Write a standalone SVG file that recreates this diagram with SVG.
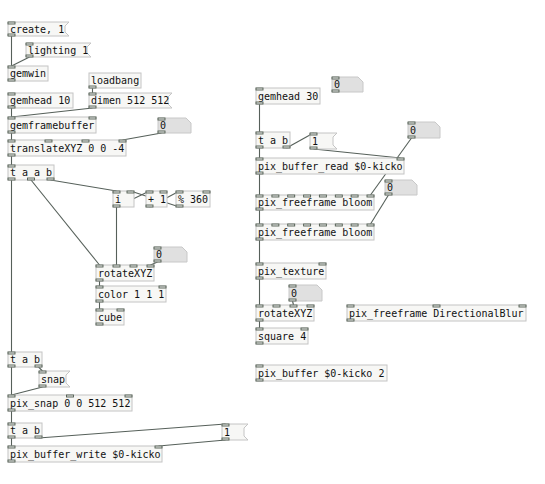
<svg xmlns="http://www.w3.org/2000/svg" width="545" height="484" viewBox="0 0 545 484">
<style>
.o{fill:#f7f7f5;stroke:#c4c4c4;stroke-width:1}
.m{fill:#f7f7f5;stroke:#c4c4c4;stroke-width:1}
.n{fill:#e0e0e0;stroke:#c8c8c8;stroke-width:1}
.io{fill:#eef0ee;stroke:#4e5a4e;stroke-width:0.9}
text{font-family:"DejaVu Sans Mono","Liberation Mono",monospace;font-size:10px;fill:#111}
.c line{stroke:#56605a;stroke-width:1.1;fill:none}
</style>
<rect width="545" height="484" fill="#ffffff"/>
<g class="c" id="connectors">
<line x1="11.5" y1="36" x2="11.5" y2="66"/>
<line x1="29.5" y1="57" x2="11.5" y2="66"/>
<line x1="92.5" y1="88" x2="92.5" y2="93"/>
<line x1="11.5" y1="108" x2="11.5" y2="117"/>
<line x1="92.5" y1="108" x2="11.5" y2="117"/>
<line x1="11.5" y1="133" x2="11.5" y2="140"/>
<line x1="161.5" y1="133" x2="122.5" y2="140"/>
<line x1="11.5" y1="156" x2="11.5" y2="165"/>
<line x1="11.5" y1="180" x2="11.5" y2="352"/>
<line x1="31" y1="180" x2="99.5" y2="265"/>
<line x1="50.5" y1="180" x2="116.5" y2="191"/>
<line x1="116.5" y1="207" x2="149.5" y2="191"/>
<line x1="149.5" y1="207" x2="179.5" y2="191"/>
<line x1="179.5" y1="207" x2="130.5" y2="191"/>
<line x1="116.5" y1="207" x2="116.5" y2="265"/>
<line x1="157.5" y1="262" x2="150.5" y2="265"/>
<line x1="99.5" y1="281" x2="99.5" y2="286"/>
<line x1="99.5" y1="302" x2="99.5" y2="309"/>
<line x1="11.5" y1="367" x2="11.5" y2="395"/>
<line x1="38.5" y1="367" x2="42.5" y2="371"/>
<line x1="42.5" y1="387" x2="11.5" y2="395"/>
<line x1="11.5" y1="411" x2="11.5" y2="423"/>
<line x1="11.5" y1="438" x2="11.5" y2="446"/>
<line x1="38.5" y1="438" x2="225.5" y2="424"/>
<line x1="225.5" y1="440" x2="158.5" y2="446"/>
<line x1="259.5" y1="104" x2="259.5" y2="132"/>
<line x1="259.5" y1="148" x2="259.5" y2="158"/>
<line x1="286.5" y1="148" x2="313.5" y2="133"/>
<line x1="313.5" y1="149" x2="400.5" y2="158"/>
<line x1="259.5" y1="174" x2="259.5" y2="195"/>
<line x1="411.5" y1="138" x2="370.5" y2="195"/>
<line x1="259.5" y1="210" x2="259.5" y2="224"/>
<line x1="388.5" y1="195" x2="370.5" y2="224"/>
<line x1="259.5" y1="240" x2="259.5" y2="263"/>
<line x1="259.5" y1="279" x2="259.5" y2="305"/>
<line x1="292.5" y1="301" x2="293.5" y2="305"/>
<line x1="259.5" y1="321" x2="259.5" y2="328"/>
</g>

<g id="msg-create">
<polygon class="m" points="8,22 69,22 65,26 65,32 69,36 8,36"/>
<text x="10" y="33">create, 1</text>
<rect class="io" x="8" y="22" width="7" height="2"/><rect class="io" x="8" y="34" width="7" height="2"/>
</g>
<g id="msg-lighting">
<polygon class="m" points="26,43 91,43 87,47 87,53 91,57 26,57"/>
<text x="28" y="54">lighting 1</text>
<rect class="io" x="26" y="43" width="7" height="2"/><rect class="io" x="26" y="55" width="7" height="2"/>
</g>
<g id="obj-gemwin">
<rect class="o" x="8" y="66" width="40" height="15"/>
<text x="10" y="77">gemwin</text>
<rect class="io" x="8" y="66" width="7" height="2"/><rect class="io" x="8" y="79" width="7" height="2"/>
</g>
<g id="obj-loadbang">
<rect class="o" x="89" y="73" width="52" height="15"/>
<text x="91" y="84">loadbang</text>
<rect class="io" x="89" y="86" width="7" height="2"/>
</g>
<g id="obj-gemhead10">
<rect class="o" x="8" y="93" width="65" height="15"/>
<text x="10" y="104">gemhead 10</text>
<rect class="io" x="8" y="93" width="7" height="2"/><rect class="io" x="8" y="106" width="7" height="2"/>
</g>
<g id="msg-dimen">
<polygon class="m" points="89,93 172,93 168,97 168,104 172,108 89,108"/>
<text x="91" y="104">dimen 512 512</text>
<rect class="io" x="89" y="93" width="7" height="2"/><rect class="io" x="89" y="106" width="7" height="2"/>
</g>
<g id="obj-gemframebuffer">
<rect class="o" x="8" y="117" width="88" height="16"/>
<text x="10" y="129">gemframebuffer</text>
<rect class="io" x="8" y="117" width="7" height="2"/><rect class="io" x="89" y="117" width="7" height="2"/>
<rect class="io" x="8" y="131" width="7" height="2"/>
</g>
<g id="num-translate">
<polygon class="n" points="158,118 186,118 191,123 191,133 158,133"/>
<text x="160" y="129">0</text>
<rect class="io" x="158" y="118" width="7" height="2"/><rect class="io" x="158" y="131" width="7" height="2"/>
</g>
<g id="obj-translateXYZ">
<rect class="o" x="8" y="140" width="118" height="16"/>
<text x="10" y="152">translateXYZ 0 0 -4</text>
<rect class="io" x="8" y="140" width="7" height="2"/><rect class="io" x="45" y="140" width="7" height="2"/><rect class="io" x="82" y="140" width="7" height="2"/><rect class="io" x="119" y="140" width="7" height="2"/>
<rect class="io" x="8" y="154" width="7" height="2"/>
</g>
<g id="obj-taab">
<rect class="o" x="8" y="165" width="46" height="15"/>
<text x="10" y="176">t a a b</text>
<rect class="io" x="8" y="165" width="7" height="2"/>
<rect class="io" x="8" y="178" width="7" height="2"/><rect class="io" x="27.5" y="178" width="7" height="2"/><rect class="io" x="47" y="178" width="7" height="2"/>
</g>
<g id="obj-i">
<rect class="o" x="113" y="191" width="21" height="16"/>
<text x="115" y="203">i</text>
<rect class="io" x="113" y="191" width="7" height="2"/><rect class="io" x="127" y="191" width="7" height="2"/>
<rect class="io" x="113" y="205" width="7" height="2"/>
</g>
<g id="obj-plus1">
<rect class="o" x="146" y="191" width="21" height="16"/>
<text x="148" y="203">+ 1</text>
<rect class="io" x="146" y="191" width="7" height="2"/><rect class="io" x="160" y="191" width="7" height="2"/>
<rect class="io" x="146" y="205" width="7" height="2"/>
</g>
<g id="obj-mod360">
<rect class="o" x="176" y="191" width="34" height="16"/>
<text x="178" y="203">% 360</text>
<rect class="io" x="176" y="191" width="7" height="2"/><rect class="io" x="203" y="191" width="7" height="2"/>
<rect class="io" x="176" y="205" width="7" height="2"/>
</g>
<g id="num-rotate">
<polygon class="n" points="154,247 182,247 187,252 187,262 154,262"/>
<text x="156" y="258">0</text>
<rect class="io" x="154" y="247" width="7" height="2"/><rect class="io" x="154" y="260" width="7" height="2"/>
</g>
<g id="obj-rotateXYZ">
<rect class="o" x="96" y="265" width="58" height="16"/>
<text x="98" y="277">rotateXYZ</text>
<rect class="io" x="96" y="265" width="7" height="2"/><rect class="io" x="113" y="265" width="7" height="2"/><rect class="io" x="130" y="265" width="7" height="2"/><rect class="io" x="147" y="265" width="7" height="2"/>
<rect class="io" x="96" y="279" width="7" height="2"/>
</g>
<g id="obj-color">
<rect class="o" x="96" y="286" width="70" height="16"/>
<text x="98" y="298">color 1 1 1</text>
<rect class="io" x="96" y="286" width="7" height="2"/><rect class="io" x="159" y="286" width="7" height="2"/>
<rect class="io" x="96" y="300" width="7" height="2"/>
</g>
<g id="obj-cube">
<rect class="o" x="96" y="309" width="28" height="16"/>
<text x="98" y="321">cube</text>
<rect class="io" x="96" y="309" width="7" height="2"/><rect class="io" x="117" y="309" width="7" height="2"/>
<rect class="io" x="96" y="323" width="7" height="2"/>
</g>
<g id="obj-tab1">
<rect class="o" x="8" y="352" width="34" height="15"/>
<text x="10" y="363">t a b</text>
<rect class="io" x="8" y="352" width="7" height="2"/>
<rect class="io" x="8" y="365" width="7" height="2"/><rect class="io" x="35" y="365" width="7" height="2"/>
</g>
<g id="msg-snap">
<polygon class="m" points="39,371 70,371 66,375 66,383 70,387 39,387"/>
<text x="41" y="383">snap</text>
<rect class="io" x="39" y="371" width="7" height="2"/><rect class="io" x="39" y="385" width="7" height="2"/>
</g>
<g id="obj-pixsnap">
<rect class="o" x="8" y="395" width="124" height="16"/>
<text x="10" y="407">pix_snap 0 0 512 512</text>
<rect class="io" x="8" y="395" width="7" height="2"/><rect class="io" x="66.5" y="395" width="7" height="2"/><rect class="io" x="125" y="395" width="7" height="2"/>
<rect class="io" x="8" y="409" width="7" height="2"/>
</g>
<g id="obj-tab2">
<rect class="o" x="8" y="423" width="34" height="15"/>
<text x="10" y="434">t a b</text>
<rect class="io" x="8" y="423" width="7" height="2"/>
<rect class="io" x="8" y="436" width="7" height="2"/><rect class="io" x="35" y="436" width="7" height="2"/>
</g>
<g id="msg-one-left">
<polygon class="m" points="222,424 248,424 244,428 244,436 248,440 222,440"/>
<text x="224" y="436">1</text>
<rect class="io" x="222" y="424" width="7" height="2"/><rect class="io" x="222" y="438" width="7" height="2"/>
</g>
<g id="obj-pixbufferwrite">
<rect class="o" x="8" y="446" width="154" height="16"/>
<text x="10" y="458">pix_buffer_write $0-kicko</text>
<rect class="io" x="8" y="446" width="7" height="2"/><rect class="io" x="155" y="446" width="7" height="2"/>
<rect class="io" x="8" y="460" width="7" height="2"/>
</g>

<g id="num-top">
<polygon class="n" points="332,77 358,77 363,82 363,92 332,92"/>
<text x="334" y="88">0</text>
<rect class="io" x="332" y="77" width="7" height="2"/><rect class="io" x="332" y="90" width="7" height="2"/>
</g>
<g id="obj-gemhead30">
<rect class="o" x="256" y="88" width="64" height="16"/>
<text x="258" y="100">gemhead 30</text>
<rect class="io" x="256" y="88" width="7" height="2"/><rect class="io" x="256" y="102" width="7" height="2"/>
</g>
<g id="obj-tab3">
<rect class="o" x="256" y="132" width="34" height="16"/>
<text x="258" y="144">t a b</text>
<rect class="io" x="256" y="132" width="7" height="2"/>
<rect class="io" x="256" y="146" width="7" height="2"/><rect class="io" x="283" y="146" width="7" height="2"/>
</g>
<g id="msg-one-right">
<polygon class="m" points="310,133 337,133 333,137 333,145 337,149 310,149"/>
<text x="312" y="145">1</text>
<rect class="io" x="310" y="133" width="7" height="2"/><rect class="io" x="310" y="147" width="7" height="2"/>
</g>
<g id="obj-pixbufferread">
<rect class="o" x="256" y="158" width="148" height="16"/>
<text x="258" y="170">pix_buffer_read $0-kicko</text>
<rect class="io" x="256" y="158" width="7" height="2"/><rect class="io" x="397" y="158" width="7" height="2"/>
<rect class="io" x="256" y="172" width="7" height="2"/>
</g>
<g id="num-bloom1">
<polygon class="n" points="408,122 435,122 440,127 440,138 408,138"/>
<text x="410" y="134">0</text>
<rect class="io" x="408" y="122" width="7" height="2"/><rect class="io" x="408" y="136" width="7" height="2"/>
</g>
<g id="obj-bloom1">
<rect class="o" x="256" y="195" width="118" height="15"/>
<text x="258" y="206">pix_freeframe bloom</text>
<rect class="io" x="256" y="195" width="7" height="2"/><rect class="io" x="271.9" y="195" width="7" height="2"/><rect class="io" x="287.7" y="195" width="7" height="2"/><rect class="io" x="303.6" y="195" width="7" height="2"/><rect class="io" x="319.4" y="195" width="7" height="2"/><rect class="io" x="335.3" y="195" width="7" height="2"/><rect class="io" x="351.1" y="195" width="7" height="2"/><rect class="io" x="367" y="195" width="7" height="2"/>
<rect class="io" x="256" y="208" width="7" height="2"/>
</g>
<g id="num-bloom2">
<polygon class="n" points="385,180 412,180 417,185 417,195 385,195"/>
<text x="387" y="191">0</text>
<rect class="io" x="385" y="180" width="7" height="2"/><rect class="io" x="385" y="193" width="7" height="2"/>
</g>
<g id="obj-bloom2">
<rect class="o" x="256" y="224" width="118" height="16"/>
<text x="258" y="236">pix_freeframe bloom</text>
<rect class="io" x="256" y="224" width="7" height="2"/><rect class="io" x="271.9" y="224" width="7" height="2"/><rect class="io" x="287.7" y="224" width="7" height="2"/><rect class="io" x="303.6" y="224" width="7" height="2"/><rect class="io" x="319.4" y="224" width="7" height="2"/><rect class="io" x="335.3" y="224" width="7" height="2"/><rect class="io" x="351.1" y="224" width="7" height="2"/><rect class="io" x="367" y="224" width="7" height="2"/>
<rect class="io" x="256" y="238" width="7" height="2"/>
</g>
<g id="obj-pixtexture">
<rect class="o" x="256" y="263" width="70" height="16"/>
<text x="258" y="275">pix_texture</text>
<rect class="io" x="256" y="263" width="7" height="2"/><rect class="io" x="319" y="263" width="7" height="2"/>
<rect class="io" x="256" y="277" width="7" height="2"/>
</g>
<g id="num-rotate2">
<polygon class="n" points="289,285 317,285 322,290 322,301 289,301"/>
<text x="291" y="297">0</text>
<rect class="io" x="289" y="285" width="7" height="2"/><rect class="io" x="289" y="299" width="7" height="2"/>
</g>
<g id="obj-rotateXYZ2">
<rect class="o" x="256" y="305" width="58" height="16"/>
<text x="258" y="317">rotateXYZ</text>
<rect class="io" x="256" y="305" width="7" height="2"/><rect class="io" x="273" y="305" width="7" height="2"/><rect class="io" x="290" y="305" width="7" height="2"/><rect class="io" x="307" y="305" width="7" height="2"/>
<rect class="io" x="256" y="319" width="7" height="2"/>
</g>
<g id="obj-directionalblur">
<rect class="o" x="347" y="305" width="179" height="16"/>
<text x="349" y="317">pix_freeframe DirectionalBlur</text>
<rect class="io" x="347" y="305" width="7" height="2"/><rect class="io" x="433" y="305" width="7" height="2"/><rect class="io" x="519" y="305" width="7" height="2"/>
<rect class="io" x="347" y="319" width="7" height="2"/>
</g>
<g id="obj-square">
<rect class="o" x="256" y="328" width="52" height="16"/>
<text x="258" y="340">square 4</text>
<rect class="io" x="256" y="328" width="7" height="2"/><rect class="io" x="301" y="328" width="7" height="2"/>
<rect class="io" x="256" y="342" width="7" height="2"/>
</g>
<g id="obj-pixbuffer">
<rect class="o" x="256" y="365" width="131" height="16"/>
<text x="258" y="377">pix_buffer $0-kicko 2</text>
<rect class="io" x="256" y="365" width="7" height="2"/>
<rect class="io" x="256" y="379" width="7" height="2"/>
</g>
</svg>
